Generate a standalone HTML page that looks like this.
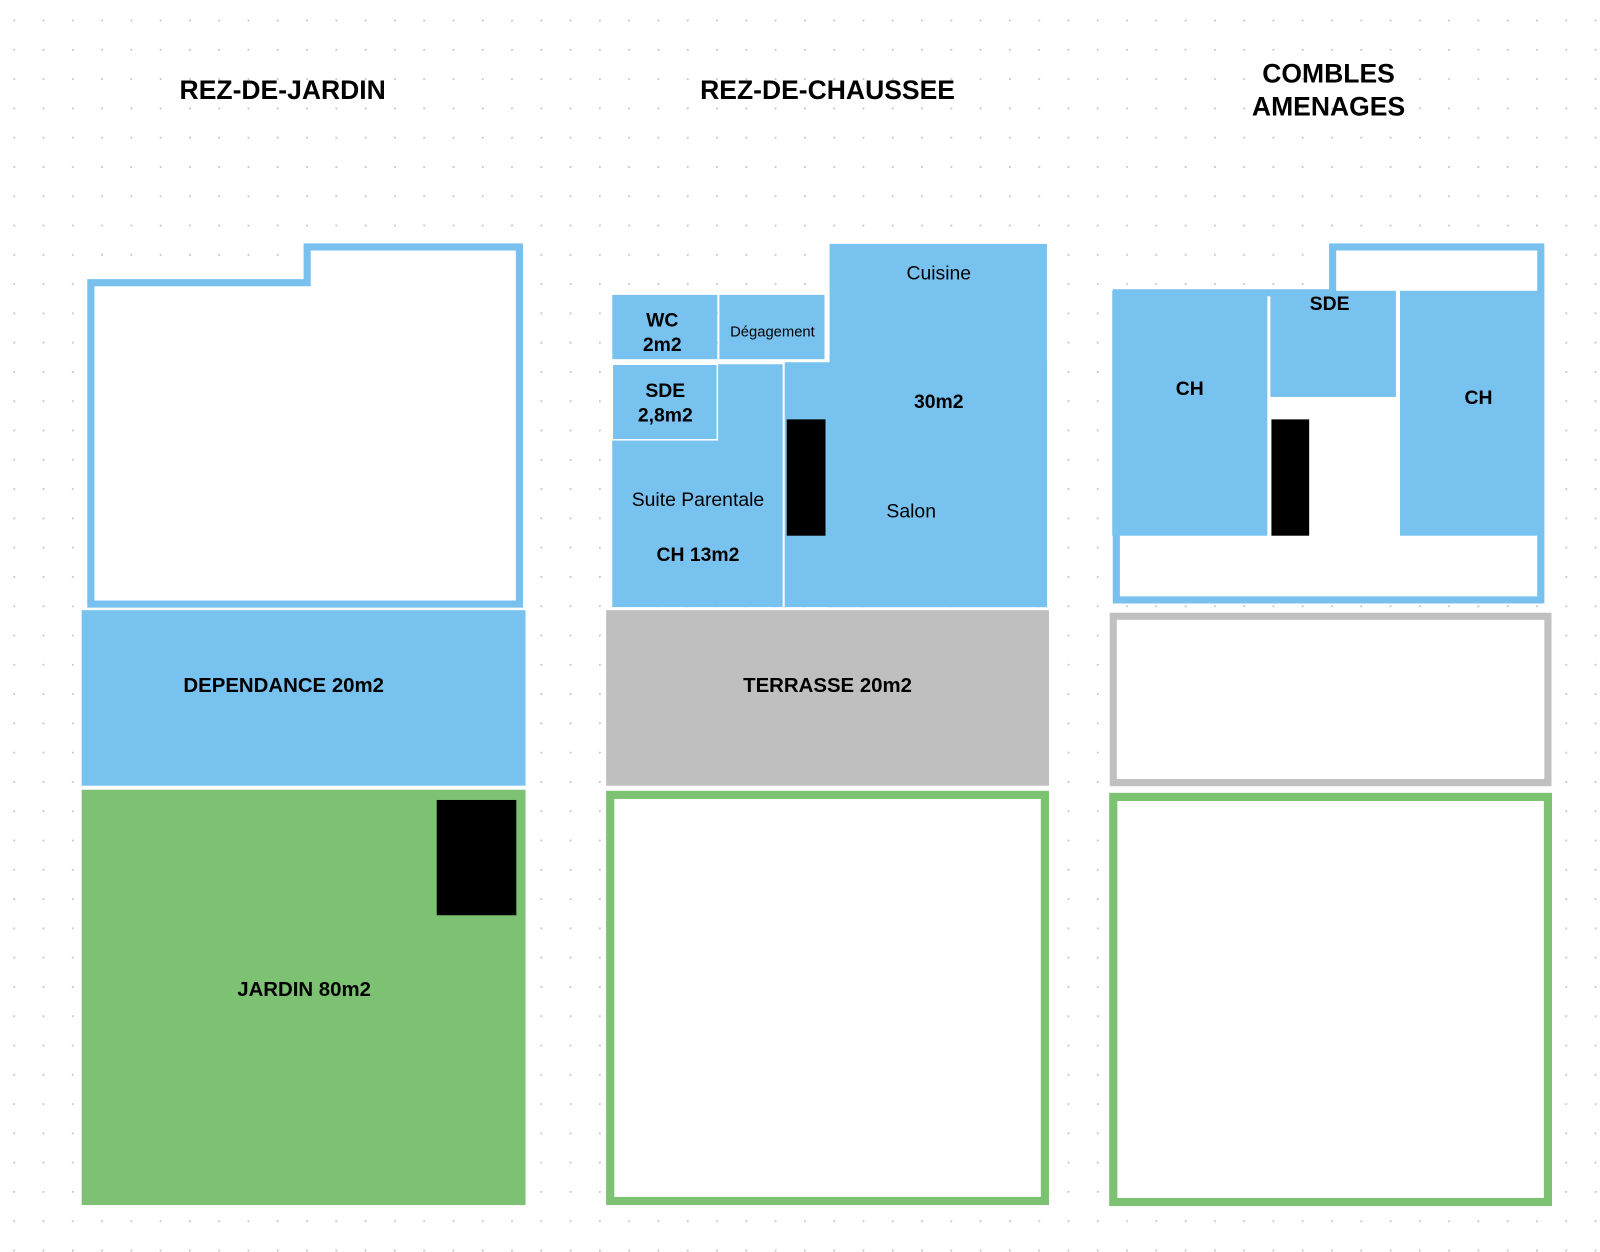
<!DOCTYPE html>
<html><head><meta charset="utf-8"><style>
html,body{margin:0;padding:0;background:#fff;width:1600px;height:1252px;overflow:hidden}
svg{display:block}
text{font-family:"Liberation Sans",sans-serif;fill:#000}
.b{font-weight:bold}
</style></head><body>
<svg width="1600" height="1252" viewBox="0 0 1568 1227" xmlns="http://www.w3.org/2000/svg">
<defs><pattern id="d" x="13" y="19.2" width="28.7" height="28.7" patternUnits="userSpaceOnUse"><circle cx="0.8" cy="0.8" r="1.1" fill="#c8c8c8"/></pattern></defs>
<rect width="1568" height="1227" fill="url(#d)"/>
<g class="b" font-size="26" text-anchor="middle">
<text x="277" y="97" class="b">REZ-DE-JARDIN</text>
<text x="811" y="97" class="b">REZ-DE-CHAUSSEE</text>
<text x="1302" y="81" class="b">COMBLES</text>
<text x="1302" y="113" class="b">AMENAGES</text>
</g>
<!-- left -->
<polygon points="89,277 301,277 301,242 509,242 509,592 89,592" fill="#fff" stroke="#78c1ef" stroke-width="7"/>
<rect x="80" y="598" width="435" height="172" fill="#78c2ef"/>
<text x="278" y="678" font-size="20" class="b" text-anchor="middle">DEPENDANCE 20m2</text>
<rect x="80" y="774" width="435" height="407" fill="#7dc172"/>
<rect x="428" y="784" width="78" height="113" fill="#000"/>
<text x="298" y="976" font-size="20" class="b" text-anchor="middle">JARDIN 80m2</text>
<!-- middle -->
<rect x="813" y="239" width="213" height="356" fill="#78c2ef"/>
<rect x="769" y="355" width="257" height="240" fill="#78c2ef"/>
<rect x="600" y="357" width="167" height="238" fill="#78c2ef"/>
<rect x="600" y="289" width="103" height="63" fill="#78c2ef"/>
<rect x="705" y="289" width="103" height="63" fill="#78c2ef"/>
<rect x="600" y="357" width="103" height="74" fill="#78c2ef" stroke="#fff" stroke-width="1.5"/>
<rect x="771" y="411" width="38" height="114" fill="#000"/>
<g font-size="19" text-anchor="middle">
<text x="649" y="320" class="b">WC</text><text x="649" y="344" class="b">2m2</text>
<text x="757" y="330" font-size="14.5">Dégagement</text>
<text x="652" y="389" class="b">SDE</text><text x="652" y="413" class="b">2,8m2</text>
<text x="920" y="274">Cuisine</text>
<text x="920" y="400" class="b">30m2</text>
<text x="684" y="496">Suite Parentale</text>
<text x="684" y="550" class="b">CH 13m2</text>
<text x="893" y="507">Salon</text>
</g>
<rect x="594" y="598" width="434" height="172" fill="#bfbfbf"/>
<text x="811" y="678" font-size="20" class="b" text-anchor="middle">TERRASSE 20m2</text>
<rect x="598" y="779" width="426" height="398" fill="#fff" stroke="#7dc172" stroke-width="8"/>
<!-- right -->
<polygon points="1094,287 1306,287 1306,242 1510,242 1510,588 1094,588" fill="#fff" stroke="#78c1ef" stroke-width="7"/>
<rect x="1090" y="285" width="152" height="240" fill="#78c2ef"/>
<rect x="1245" y="285" width="123" height="104" fill="#78c2ef"/>
<rect x="1372" y="285" width="141" height="240" fill="#78c2ef"/>
<rect x="1246" y="411" width="37" height="114" fill="#000"/>
<g font-size="19" text-anchor="middle">
<text x="1166" y="387" class="b">CH</text>
<text x="1303" y="304" class="b">SDE</text>
<text x="1449" y="396" class="b">CH</text>
</g>
<rect x="1091" y="604" width="426" height="163" fill="#fff" stroke="#c0c0c0" stroke-width="7"/>
<rect x="1091" y="781" width="426" height="397" fill="#fff" stroke="#7dc172" stroke-width="8"/>
</svg>
</body></html>
